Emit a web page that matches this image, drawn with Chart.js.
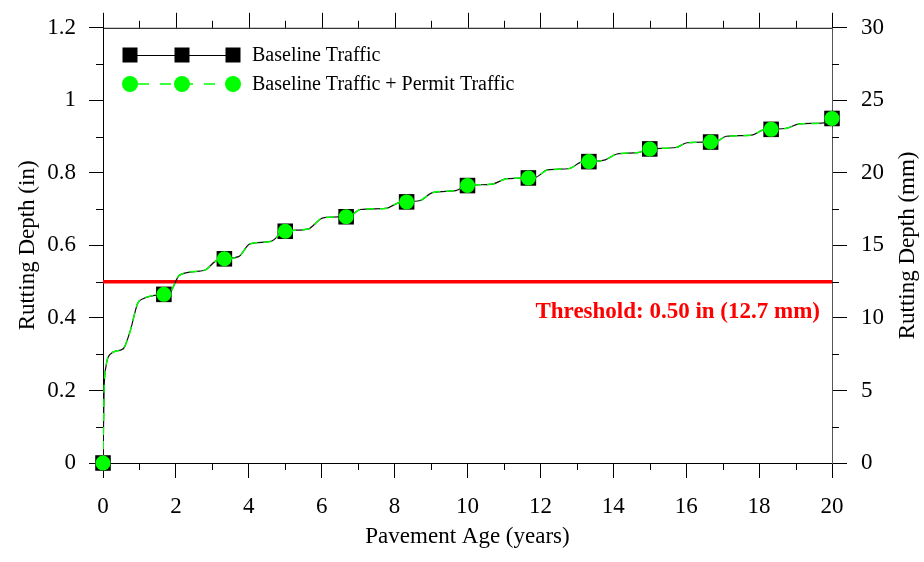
<!DOCTYPE html>
<html>
<head>
<meta charset="utf-8">
<script src="https://cdn.jsdelivr.net/npm/chart.js@4.4.1/dist/chart.umd.min.js"></script>
<style>
  html, body { margin: 0; padding: 0; background: #fff; }
  #wrap { width: 924px; height: 562px; }
</style>
</head>
<body>
<div id="wrap"><canvas id="ruttingChart" width="924" height="562"></canvas></div>
<script>
// curve (pavement age in years, rutting depth in inches)
const curveYears = [0, 0.03, 0.08, 0.2, 0.5, 0.58, 0.75, 0.95, 1.1, 1.67, 1.82, 2.1, 2.65, 2.82, 3.08, 3.33, 3.72, 4.03, 4.6, 4.98, 5.62, 6.04, 6.67, 6.8, 7.06, 7.75, 8.12, 8.33, 8.68, 9.06, 9.68, 10, 10.68, 11.08, 11.67, 11.88, 12.2, 12.8, 13.1, 13.33, 13.78, 14.1, 14.68, 15, 15.72, 16.02, 16.67, 16.85, 17.1, 17.8, 18.1, 18.33, 18.75, 19.1, 19.78, 20];
const baselineCurve = [0, 0.2, 0.265, 0.3, 0.312, 0.318, 0.365, 0.44, 0.453, 0.465, 0.468, 0.518, 0.529, 0.533, 0.556, 0.563, 0.569, 0.604, 0.611, 0.639, 0.645, 0.676, 0.679, 0.682, 0.699, 0.702, 0.718, 0.72, 0.723, 0.746, 0.751, 0.765, 0.769, 0.784, 0.786, 0.788, 0.808, 0.812, 0.829, 0.831, 0.836, 0.852, 0.856, 0.866, 0.87, 0.883, 0.885, 0.887, 0.901, 0.904, 0.918, 0.92, 0.923, 0.935, 0.938, 0.948];
const permitCurve = [0, 0.2, 0.265, 0.3, 0.312, 0.318, 0.365, 0.44, 0.453, 0.465, 0.468, 0.518, 0.529, 0.533, 0.556, 0.563, 0.569, 0.604, 0.611, 0.639, 0.645, 0.676, 0.679, 0.682, 0.699, 0.702, 0.718, 0.72, 0.723, 0.746, 0.751, 0.765, 0.769, 0.784, 0.786, 0.788, 0.808, 0.812, 0.829, 0.831, 0.836, 0.852, 0.856, 0.866, 0.87, 0.883, 0.885, 0.887, 0.901, 0.904, 0.918, 0.92, 0.923, 0.935, 0.938, 0.948];

// marker positions
const markerYears = [0, 1.67, 3.33, 5, 6.67, 8.33, 10, 11.67, 13.33, 15, 16.67, 18.33, 20];
const baselineMarkers = [0, 0.465, 0.563, 0.639, 0.679, 0.72, 0.765, 0.786, 0.831, 0.866, 0.885, 0.92, 0.95];
const permitMarkers = [0, 0.465, 0.563, 0.639, 0.679, 0.72, 0.765, 0.786, 0.831, 0.866, 0.885, 0.92, 0.95];

const thresholdIn = 0.5;
const thresholdLabel = 'Threshold: 0.50 in (12.7 mm)';
const seriesNames = ['Baseline Traffic', 'Baseline Traffic + Permit Traffic'];

const xTicks = [0, 2, 4, 6, 8, 10, 12, 14, 16, 18, 20];
const yTicksIn = [0, 0.2, 0.4, 0.6, 0.8, 1, 1.2];
const yTicksMm = [0, 5, 10, 15, 20, 25, 30];

const FONT = "'Liberation Serif', 'Times New Roman', serif";
const GREEN = '#00ff00';

const toPts = (xs, ys) => xs.map((x, i) => ({ x: x, y: ys[i] }));

// minor ticks, top frame and the extra texts
const decorPlugin = {
  id: 'decor',
  afterDraw(chart) {
    const { ctx, chartArea: a, scales } = chart;
    const x = scales.x, y = scales.y, y2 = scales.y2;
    ctx.save();
    ctx.strokeStyle = '#000';
    ctx.lineWidth = 1;
    ctx.beginPath();
    // top frame line
    ctx.moveTo(a.left, a.top + 0.5); ctx.lineTo(a.right, a.top + 0.5);
    // top ticks (major + minor), bottom minor ticks
    for (let v = 0; v <= 20; v++) {
      const px = Math.round(x.getPixelForValue(v)) + 0.5;
      const len = v % 2 === 0 ? 15 : 7;
      ctx.moveTo(px, a.top); ctx.lineTo(px, a.top - len);
      if (v % 2 === 1) { ctx.moveTo(px, a.bottom); ctx.lineTo(px, a.bottom + 7); }
    }
    for (let i = 0; i < yTicksIn.length - 1; i++) {
      const v = (yTicksIn[i] + yTicksIn[i + 1]) / 2;
      const py = Math.round(y.getPixelForValue(v)) + 0.5;
      ctx.moveTo(a.left, py); ctx.lineTo(a.left - 7, py);
    }
    for (let i = 0; i < yTicksMm.length - 1; i++) {
      const v = (yTicksMm[i] + yTicksMm[i + 1]) / 2;
      const py = Math.round(y2.getPixelForValue(v)) + 0.5;
      ctx.moveTo(a.right, py); ctx.lineTo(a.right + 7, py);
    }
    ctx.stroke();

    // threshold label
    ctx.fillStyle = '#ff0000';
    ctx.font = 'bold 23px ' + FONT;
    ctx.textAlign = 'right';
    ctx.textBaseline = 'alphabetic';
    ctx.fillText(thresholdLabel, a.right - 12, y.getPixelForValue(thresholdIn) + 36);

    // right axis title, reading bottom to top
    ctx.save();
    ctx.translate(908, (a.top + a.bottom) / 2);
    ctx.rotate(-Math.PI / 2);
    ctx.fillStyle = '#000';
    ctx.font = '23px ' + FONT;
    ctx.textAlign = 'center';
    ctx.textBaseline = 'middle';
    ctx.fillText('Rutting Depth (mm)', 0, 0);
    ctx.restore();

    // legend
    const lx = [130, 182, 233];
    const rows = [55, 84];
    ctx.strokeStyle = '#000';
    ctx.beginPath();
    ctx.moveTo(lx[0], rows[0] + 0.5); ctx.lineTo(lx[2], rows[0] + 0.5);
    ctx.stroke();
    ctx.fillStyle = '#000';
    lx.forEach(cx => ctx.fillRect(cx - 7.5, rows[0] - 7.5, 15, 15));
    ctx.strokeStyle = GREEN;
    ctx.lineWidth = 1.5;
    ctx.setLineDash([11, 11]);
    ctx.lineDashOffset = -8;
    ctx.beginPath();
    ctx.moveTo(lx[0], rows[1]); ctx.lineTo(lx[2], rows[1]);
    ctx.stroke();
    ctx.setLineDash([]);
    ctx.fillStyle = GREEN;
    lx.forEach(cx => { ctx.beginPath(); ctx.arc(cx, rows[1], 8, 0, Math.PI * 2); ctx.fill(); });
    ctx.fillStyle = '#000';
    ctx.font = '20px ' + FONT;
    ctx.textAlign = 'left';
    ctx.textBaseline = 'middle';
    ctx.fillText(seriesNames[0], 252, rows[0] + 1);
    ctx.fillText(seriesNames[1], 252, rows[1] + 1);
    ctx.restore();
  }
};

const ctx = document.getElementById('ruttingChart').getContext('2d');

new Chart(ctx, {
  type: 'line',
  data: {
    datasets: [
      {
        label: 'threshold',
        data: [{ x: 0, y: thresholdIn }, { x: 20, y: thresholdIn }],
        borderColor: '#ff0000',
        borderWidth: 3.5,
        pointRadius: 0,
        order: 6
      },
      {
        label: seriesNames[0],
        data: toPts(curveYears, baselineCurve),
        borderColor: '#111',
        borderWidth: 1.2,
        pointRadius: 0,
        cubicInterpolationMode: 'monotone',
        order: 5
      },
      {
        label: seriesNames[0] + ' markers',
        data: toPts(markerYears, baselineMarkers),
        showLine: false,
        pointStyle: 'rect',
        pointRadius: 11,
        backgroundColor: '#000',
        borderColor: '#000',
        borderWidth: 0,
        clip: false,
        order: 4
      },
      {
        label: seriesNames[1],
        data: toPts(curveYears, permitCurve),
        borderColor: GREEN,
        borderWidth: 1.5,
        borderDash: [8, 6],
        pointRadius: 0,
        cubicInterpolationMode: 'monotone',
        order: 3
      },
      {
        label: seriesNames[1] + ' markers',
        data: toPts(markerYears, permitMarkers),
        showLine: false,
        pointStyle: 'circle',
        pointRadius: 7.5,
        backgroundColor: GREEN,
        borderColor: GREEN,
        borderWidth: 0,
        clip: false,
        order: 2
      }
    ]
  },
  options: {
    responsive: false,
    animation: false,
    layout: { padding: { top: 27, left: 0, right: 0, bottom: 0 } },
    plugins: {
      legend: { display: false },
      tooltip: { enabled: false }
    },
    scales: {
      x: {
        type: 'linear',
        min: 0,
        max: 20,
        afterFit: s => { s.height = 99; },
        afterBuildTicks: s => { s.ticks = xTicks.map(v => ({ value: v })); },
        ticks: { color: '#000', font: { family: FONT, size: 23 }, padding: 15, maxRotation: 0 },
        grid: { drawOnChartArea: false, drawTicks: true, tickLength: 15, color: '#000' },
        border: { display: true, color: '#000' },
        title: { display: true, text: 'Pavement Age (years)', color: '#000', font: { family: FONT, size: 23 }, padding: { top: 0, bottom: 11 } }
      },
      y: {
        type: 'linear',
        position: 'left',
        min: 0,
        max: 1.2,
        afterFit: s => { s.width = 103; },
        afterBuildTicks: s => { s.ticks = yTicksIn.map(v => ({ value: v })); },
        ticks: { color: '#000', font: { family: FONT, size: 23 }, padding: 13, callback: v => String(+v.toFixed(1)) },
        grid: { drawOnChartArea: false, drawTicks: true, tickLength: 14, color: '#000' },
        border: { display: true, color: '#000' },
        title: { display: true, text: 'Rutting Depth (in)', color: '#000', font: { family: FONT, size: 23 }, padding: { top: 14, bottom: 0 } }
      },
      y2: {
        type: 'linear',
        position: 'right',
        min: 0,
        max: 30,
        afterFit: s => { s.width = 92; },
        afterBuildTicks: s => { s.ticks = yTicksMm.map(v => ({ value: v })); },
        ticks: { color: '#000', font: { family: FONT, size: 23 }, padding: 14 },
        grid: { drawOnChartArea: false, drawTicks: true, tickLength: 15, color: '#000' },
        border: { display: true, color: '#555' }
      }
    }
  },
  plugins: [decorPlugin]
});
</script>
</body>
</html>
